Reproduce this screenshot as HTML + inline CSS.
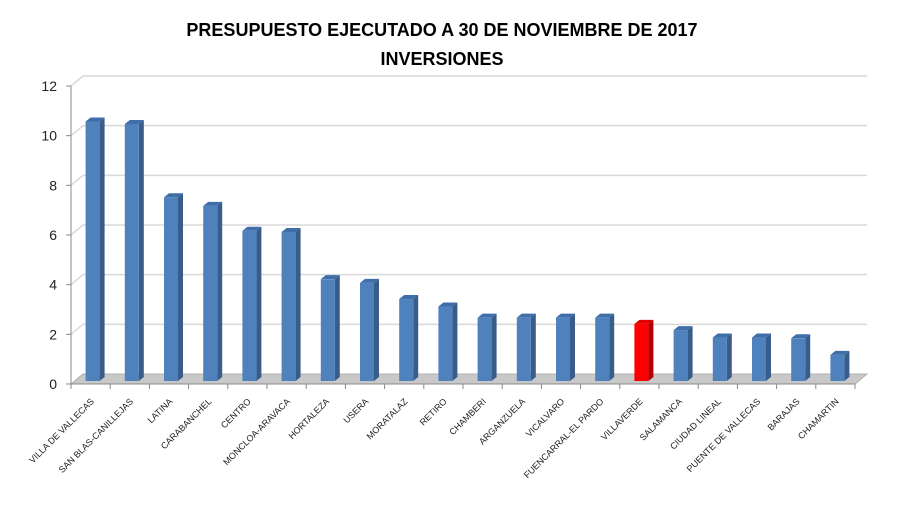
<!DOCTYPE html>
<html><head><meta charset="utf-8"><style>
body{margin:0;background:#fff;}
svg{display:block;font-family:"Liberation Sans",sans-serif;}
</style></head><body>
<svg id="c" width="900" height="530">
<text x="442" y="36" text-anchor="middle" font-size="18" font-weight="bold">PRESUPUESTO EJECUTADO A 30 DE NOVIEMBRE DE 2017</text>
<text x="442" y="65" text-anchor="middle" font-size="18" font-weight="bold">INVERSIONES</text>
<g id="g"></g>
</svg>
<script>
const categories=["VILLA DE VALLECAS","SAN BLAS-CANILLEJAS","LATINA","CARABANCHEL","CENTRO","MONCLOA-ARAVACA","HORTALEZA","USERA","MORATALAZ","RETIRO","CHAMBERI","ARGANZUELA","VICALVARO","FUENCARRAL-EL PARDO","VILLAVERDE","SALAMANCA","CIUDAD LINEAL","PUENTE DE VALLECAS","BARAJAS","CHAMARTIN"];
const values=[10.45,10.35,7.4,7.05,6.05,6.0,4.1,3.95,3.3,3.0,2.55,2.55,2.55,2.55,2.3,2.05,1.75,1.75,1.72,1.05];
const highlight=["VILLAVERDE"];
const yTicks=[0,2,4,6,8,10,12];
const NS="http://www.w3.org/2000/svg";
const g=document.getElementById('g');
const x0=71,x1=855,y0=384,y12=86,dx=12,dy=10;
const yS=v=>y0-(v/12)*(y0-y12);
const band=(x1-x0)/categories.length;
function el(t,a,name){const e=document.createElementNS(NS,t);for(const k in a)e.setAttribute(k,a[k]);


g.appendChild(e);return e;}
// gridlines on back wall
yTicks.forEach(v=>{if(v===0)return;const y=yS(v);
el('polyline',{points:`${x0},${y} ${x0+dx},${y-dy} ${x1+dx},${y-dy}`,fill:'none',stroke:'#d9d9d9','stroke-width':1.5},'gridline');});
// floor
el('polygon',{points:`${x0},${y0} ${x0+dx},${y0-dy} ${x1+dx},${y0-dy} ${x1},${y0}`,fill:'#c8c8c8',stroke:'#b0b0b0'},'floor');
// axes
el('line',{x1:x0,y1:y0,x2:x0,y2:y12,stroke:'#888'},'y-axis');
el('line',{x1:x0,y1:y0,x2:x1,y2:y0,stroke:'#888'},'x-axis');
yTicks.forEach(v=>{const y=yS(v);
el('line',{x1:x0-5,y1:y,x2:x0,y2:y,stroke:'#888'},'y-tick');
const t=el('text',{x:x0-14,y:y+5,'text-anchor':'end','font-size':14,fill:'#222'},'y-tick-label');t.textContent=v;});
categories.forEach((c,i)=>{const tx=x0+band*i;
el('line',{x1:tx,y1:y0,x2:tx,y2:y0+5,stroke:'#888'},'x-tick');});
el('line',{x1:x1,y1:y0,x2:x1,y2:y0+5,stroke:'#888'},'x-tick');
// bars
categories.forEach((c,i)=>{const v=values[i];const hl=highlight.includes(c);
const front=hl?'#ff0000':'#4f81bd',side=hl?'#b00000':'#385d8a',top=hl?'#e00000':'#3f6ea8';
const bw=14,bd=5,bx=x0+band*i+band/2-bw/2+2,base=y0-3,ty=base-(v/12)*(y0-y12);
el('polygon',{points:`${bx+bw},${base} ${bx+bw+bd},${base-4} ${bx+bw+bd},${ty-4} ${bx+bw},${ty}`,fill:side},'bar-side');
el('polygon',{points:`${bx},${ty} ${bx+bd},${ty-4} ${bx+bw+bd},${ty-4} ${bx+bw},${ty}`,fill:top},'bar-top');
el('rect',{x:bx,y:ty,width:bw,height:base-ty,fill:front},'bar-'+c.toLowerCase().replace(/[^a-z]+/g,'-'));
const lx=x0+band*i+band/2+4,ly=y0+18;
const t=el('text',{x:lx,y:ly,'text-anchor':'end','font-size':9,fill:'#222',transform:`rotate(-45 ${lx} ${ly})`},'x-tick-label');t.textContent=c;});
</script>
</body></html>
